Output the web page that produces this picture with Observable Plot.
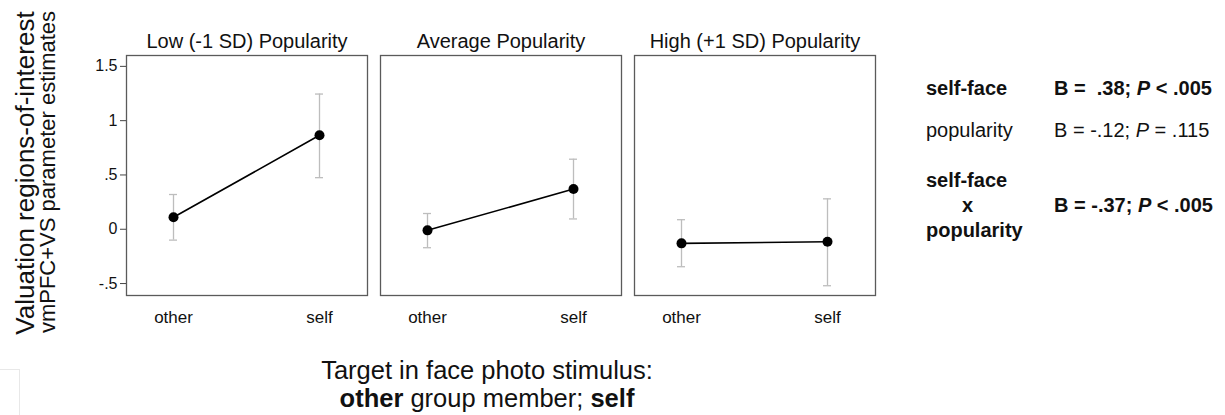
<!DOCTYPE html>
<html><head><meta charset="utf-8">
<script src="https://cdn.jsdelivr.net/npm/d3@7"></script>
<script src="https://cdn.jsdelivr.net/npm/@observablehq/plot@0.6"></script>
<style>
body{margin:0;background:#fff;font-family:"Liberation Sans",Arial,Helvetica,sans-serif;color:#111;}
#wrap{position:relative;width:1225px;height:415px;overflow:hidden;}
#chart{position:absolute;left:0;top:0;}
.abs{position:absolute;white-space:nowrap;line-height:1;}
.vc{transform:translate(0,-50%);}
.rot{transform:translate(-50%,-50%) rotate(-90deg);}
.b{font-weight:bold;}
</style></head><body>
<div id="wrap">
  <div id="chart"></div>
  <div class="abs rot" style="left:25px;top:173px;font-size:26px;">Valuation regions-of-interest</div>
  <div class="abs rot" style="left:48px;top:172px;font-size:22px;">vmPFC+VS parameter estimates</div>
  <div class="abs" style="left:287px;width:400px;text-align:center;top:358px;font-size:25.5px;">Target in face photo stimulus:</div>
  <div class="abs" style="left:287px;width:400px;text-align:center;top:386px;font-size:25.5px;"><b>other</b> group member; <b>self</b></div>

  <div class="abs vc b" style="left:926px;top:88px;font-size:20px;">self-face</div>
  <div class="abs vc b" style="left:1054px;top:88px;font-size:20px;">B = &nbsp;.38; <i>P</i> &lt; .005</div>
  <div class="abs vc" style="left:926px;top:130px;font-size:20px;">popularity</div>
  <div class="abs vc" style="left:1054px;top:130px;font-size:20px;">B = -.12; <i>P</i> = .115</div>
  <div class="abs vc b" style="left:926px;top:180px;font-size:20px;">self-face</div>
  <div class="abs vc b" style="left:962px;top:205px;font-size:20px;">x</div>
  <div class="abs vc b" style="left:926px;top:230px;font-size:20px;">popularity</div>
  <div class="abs vc b" style="left:1054px;top:205px;font-size:20px;">B = -.37; <i>P</i> &lt; .005</div>

  <div style="position:absolute;left:-2px;top:369px;width:20px;height:60px;border:1px solid #e8e8e8;"></div>
</div>
<script>
const panels = ["Low (-1 SD) Popularity", "Average Popularity", "High (+1 SD) Popularity"];
const targets = ["other", "self"];
const estimates = [[0.11, 0.865], [-0.01, 0.37], [-0.13, -0.115]];
const ciLow = [[-0.10, 0.475], [-0.17, 0.095], [-0.345, -0.52]];
const ciHigh = [[0.32, 1.245], [0.145, 0.645], [0.088, 0.28]];
const yTicks = [-0.5, 0, 0.5, 1, 1.5];
const yTickLabels = ["-.5", "0", ".5", "1", "1.5"];

const rows = [];
panels.forEach((p, i) => targets.forEach((t, j) => {
  rows.push({panel: p, target: t, est: estimates[i][j], lo: ciLow[i][j], hi: ciHigh[i][j]});
}));

const font = '"Liberation Sans", Arial, Helvetica, sans-serif';
const errColor = "#bdbdbd";

const chart = Plot.plot({
  width: 880,
  height: 340,
  marginLeft: 125,
  marginRight: 5,
  marginTop: 55,
  marginBottom: 45,
  style: {fontFamily: font, background: "transparent", color: "#111"},
  fx: {domain: panels, paddingInner: 0.053, paddingOuter: 0, label: null, axis: null},
  x: {type: "band", domain: targets, paddingInner: 0.945, paddingOuter: 0.295, label: null, axis: null},
  y: {domain: [-0.61, 1.6], label: null, axis: null},
  marks: [
    Plot.frame({stroke: "#5a5a5a", strokeWidth: 1.3}),
    Plot.axisFx({anchor: "top", label: null, tickSize: 0, tickPadding: 8, fontSize: 20, fill: "#111"}),
    Plot.axisX({anchor: "bottom", label: null, tickSize: 0, tickPadding: 15, fontSize: 17, fill: "#111"}),
    Plot.axisY(yTicks, {anchor: "left", label: null, tickSize: 6, tickPadding: 3, fontSize: 16,
      tickFormat: d => yTickLabels[yTicks.indexOf(d)], stroke: "#444", fill: "#111"}),
    Plot.ruleX(rows, {fx: "panel", x: "target", y1: "lo", y2: "hi", stroke: errColor, strokeWidth: 1.3}),
    Plot.tickY(rows, {fx: "panel", x: "target", y: "lo", stroke: errColor, strokeWidth: 1.3}),
    Plot.tickY(rows, {fx: "panel", x: "target", y: "hi", stroke: errColor, strokeWidth: 1.3}),
    Plot.line(rows, {fx: "panel", x: "target", y: "est", stroke: "#000", strokeWidth: 1.6}),
    Plot.dot(rows, {fx: "panel", x: "target", y: "est", r: 5, fill: "#000", stroke: "none"})
  ]
});
document.getElementById("chart").appendChild(chart);
</script>
</body></html>
